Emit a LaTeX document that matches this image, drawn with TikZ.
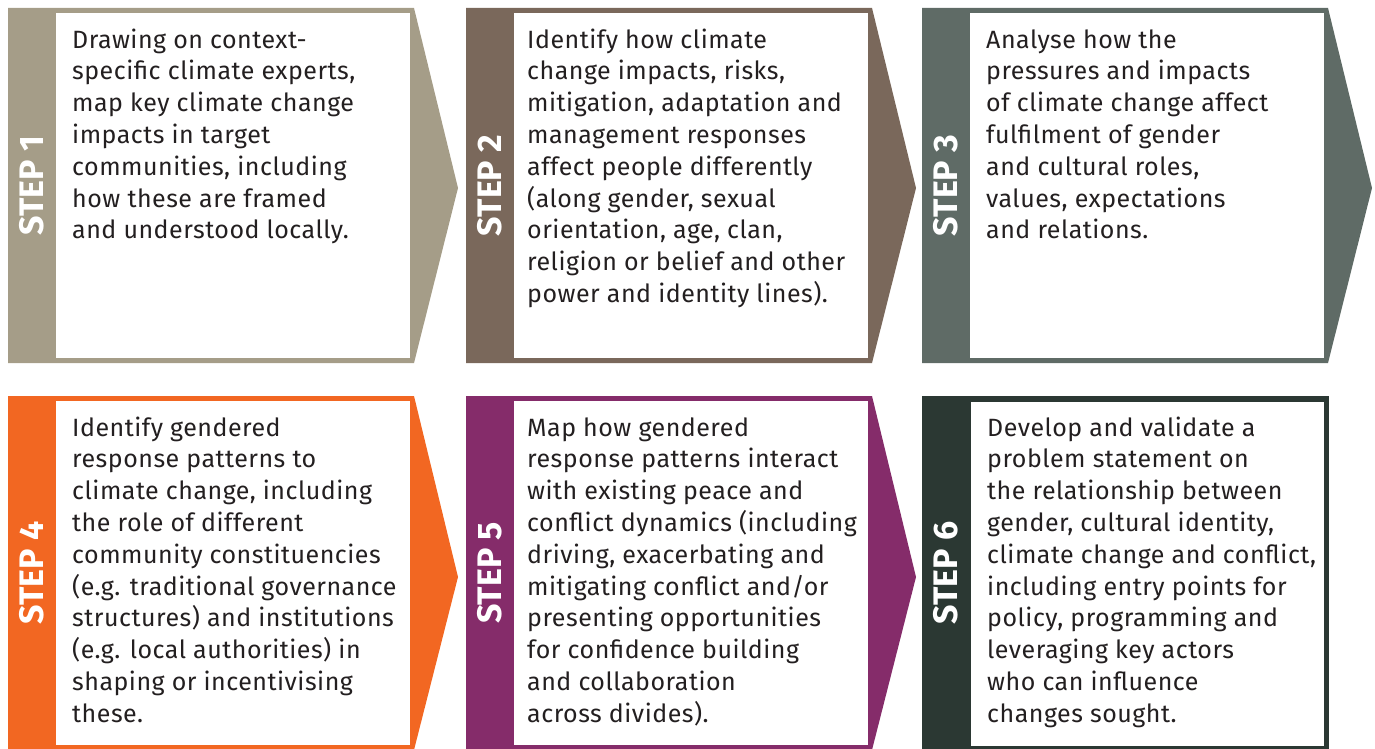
\documentclass[tikz,border=0pt]{standalone}
\usepackage{fontspec}
\setmainfont{Fira Sans}
\newfontfamily\bodyfont[LetterSpace=2]{Fira Sans}
\definecolor{cA}{HTML}{A59D88}
\definecolor{cB}{HTML}{7A685B}
\definecolor{cC}{HTML}{5F6B66}
\definecolor{cD}{HTML}{F26722}
\definecolor{cE}{HTML}{852C6A}
\definecolor{cF}{HTML}{2B3833}
\definecolor{txt}{HTML}{231F20}
\tikzset{
  steplabel/.style={rotate=90, anchor=base, text=white, inner sep=0pt,
    font=\bfseries\fontsize{34}{34}\selectfont},
  body/.style={anchor=base west, align=left, inner sep=0pt, text=txt,
    font=\bodyfont\fontsize{25}{31.8}\selectfont},
  inner/.style={fill=white}
}
\begin{document}
\begin{tikzpicture}[x=1pt,y=-1pt]
\useasboundingbox (0,0) rectangle (1375,749);
% Step shapes: L, T, B, tipY, colour
\foreach \L/\T/\B/\Y/\c/\n in {8/8/363/188/cA/1, 466/8/363/188/cB/2, 922/8/363/188/cC/3,
                               8/396/750/577/cD/4, 466/396/750/577/cE/5}{
  \fill[\c] (\L,\T) -- ({\L+406},\T) -- ({\L+450},\Y) -- ({\L+406},\B) -- (\L,\B) -- cycle;
  \fill[inner] ({\L+48},{\T+5}) rectangle ({\L+402},{\B-5});
  \node[steplabel] (s\n) at ({\L+35},{(\T+\B)/2}) {STEP \n};
}
\fill[cF] (922,396) rectangle (1329,750);
\fill[inner] (971,402) rectangle (1324,746);
\node[steplabel] (s6) at (957,573) {STEP 6};

% anchors are on the last line's baseline (first baseline + (n-1)*31.8)
\node[body] (t1) at (72,238.8) {Drawing on context-\\specific climate experts,\\map key climate change\\impacts in target\\communities, including\\how these are framed\\and understood locally.};
\node[body] (t2) at (527,302.4) {Identify how climate\\change impacts, risks,\\mitigation, adaptation and\\management responses\\affect people differently\\(along gender, sexual\\orientation, age, clan,\\religion or belief and other\\power and identity lines).};
\node[body] (t3) at (986,238.8) {Analyse how the\\pressures and impacts\\of climate change affect\\fulfilment of gender\\and cultural roles,\\values, expectations\\and relations.};
\node[body] (t4) at (72,722.2) {Identify gendered\\response patterns to\\climate change, including\\the role of different\\community constituencies\\(e.g. traditional governance\\structures) and institutions\\(e.g. local authorities) in\\shaping or incentivising\\these.};
\node[body] (t5) at (527,722.2) {Map how gendered\\response patterns interact\\with existing peace and\\conflict dynamics (including\\driving, exacerbating and\\mitigating conflict and/or\\presenting opportunities\\for confidence building\\and collaboration\\across divides).};
\node[body] (t6) at (987,722.2) {Develop and validate a\\problem statement on\\the relationship between\\gender, cultural identity,\\climate change and conflict,\\including entry points for\\policy, programming and\\leveraging key actors\\who can influence\\changes sought.};
\end{tikzpicture}
\end{document}
